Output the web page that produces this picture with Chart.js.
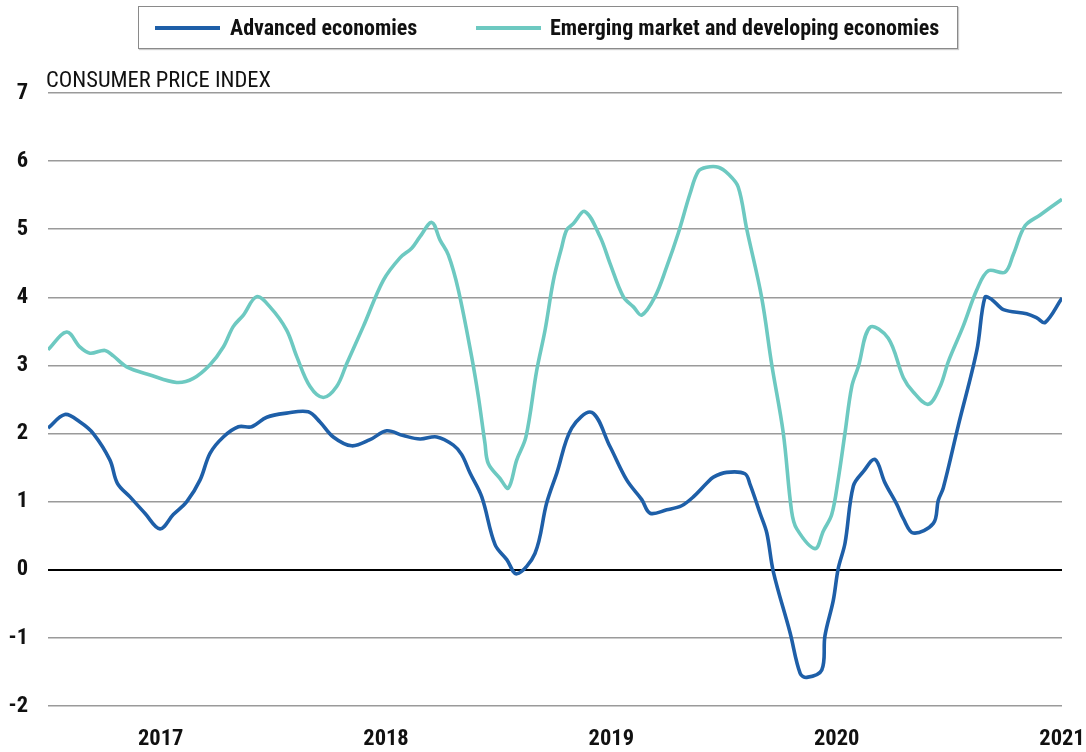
<!DOCTYPE html>
<html><head><meta charset="utf-8">
<script src="https://cdn.jsdelivr.net/npm/chart.js@4/dist/chart.umd.min.js"></script>
<style>
html,body{margin:0;padding:0;background:#fff;}
#wrap{position:relative;width:1086px;height:752px;overflow:hidden;}
#c{position:absolute;left:0;top:0;}
.legend{position:absolute;left:138px;top:6px;width:818px;height:41px;border:1px solid #8a8a8a;box-shadow:1px 1px 1px rgba(0,0,0,0.2);background:#fff;
 font-family:'Roboto Condensed','Liberation Sans Narrow','DejaVu Sans Condensed',Roboto,sans-serif;font-weight:bold;font-size:22px;color:#111;}
.item{position:absolute;top:0;height:41px;line-height:41px;white-space:nowrap;}
.sw{position:absolute;top:19px;height:4px;}
.ytitle{position:absolute;left:46px;top:66px;font-family:'Roboto Condensed','Liberation Sans Narrow','DejaVu Sans Condensed',Roboto,sans-serif;font-size:22.5px;color:#111;white-space:nowrap;}
</style></head>
<body>
<div id="wrap">
<canvas id="c" width="1086" height="752"></canvas>
<div class="legend">
 <div class="sw" style="left:16px;width:65px;background:#1e5fa8"></div>
 <div class="item" style="left:91px">Advanced economies</div>
 <div class="sw" style="left:337px;width:65px;background:#6dc9c1"></div>
 <div class="item" style="left:411px">Emerging market and developing economies</div>
</div>
<div class="ytitle">CONSUMER PRICE INDEX</div>
</div>
<script>
const yearTicks = [2017, 2018, 2019, 2020, 2021];
const yTicks = [-2, -1, 0, 1, 2, 3, 4, 5, 6, 7];
const seriesNames = ['Advanced economies', 'Emerging market and developing economies'];

const advX = [2016.50,2016.575,2016.642,2016.701,2016.775,2016.808,2016.864,2016.930,2016.997,2017.056,2017.116,2017.175,2017.219,2017.278,2017.345,2017.404,2017.471,2017.559,2017.655,2017.707,2017.766,2017.848,2017.929,2018.003,2018.077,2018.151,2018.225,2018.299,2018.336,2018.373,2018.425,2018.484,2018.536,2018.580,2018.661,2018.713,2018.758,2018.824,2018.913,2018.994,2019.068,2019.135,2019.172,2019.246,2019.312,2019.364,2019.423,2019.453,2019.512,2019.593,2019.616,2019.660,2019.690,2019.719,2019.793,2019.838,2019.867,2019.934,2019.948,2019.985,2020.007,2020.037,2020.074,2020.118,2020.170,2020.214,2020.267,2020.296,2020.340,2020.429,2020.451,2020.473,2020.540,2020.622,2020.658,2020.688,2020.740,2020.843,2020.888,2020.925,2021.0];
const advY = [2.08,2.28,2.17,2.00,1.61,1.27,1.07,0.83,0.60,0.81,1.00,1.32,1.71,1.95,2.10,2.10,2.24,2.30,2.32,2.17,1.95,1.82,1.91,2.04,1.97,1.92,1.95,1.83,1.69,1.42,1.07,0.37,0.15,-0.06,0.24,0.98,1.42,2.08,2.31,1.81,1.32,1.03,0.83,0.88,0.94,1.07,1.27,1.36,1.43,1.41,1.25,0.83,0.54,-0.03,-0.92,-1.52,-1.58,-1.47,-0.97,-0.45,0.02,0.39,1.23,1.44,1.62,1.28,0.96,0.75,0.54,0.68,1.02,1.20,2.12,3.22,4.00,3.97,3.82,3.76,3.70,3.63,3.99];

const emX = [2016.50,2016.583,2016.642,2016.686,2016.753,2016.790,2016.849,2016.953,2017.071,2017.145,2017.219,2017.278,2017.322,2017.367,2017.426,2017.485,2017.559,2017.604,2017.663,2017.722,2017.781,2017.826,2017.899,2017.988,2018.062,2018.114,2018.151,2018.203,2018.240,2018.277,2018.321,2018.380,2018.410,2018.439,2018.454,2018.506,2018.543,2018.580,2018.621,2018.669,2018.706,2018.743,2018.780,2018.802,2018.831,2018.883,2018.950,2018.994,2019.053,2019.098,2019.135,2019.194,2019.246,2019.297,2019.349,2019.386,2019.423,2019.475,2019.519,2019.563,2019.601,2019.667,2019.712,2019.763,2019.800,2019.823,2019.904,2019.941,2019.978,2020.007,2020.037,2020.067,2020.096,2020.148,2020.229,2020.296,2020.340,2020.407,2020.459,2020.496,2020.562,2020.622,2020.673,2020.747,2020.784,2020.836,2020.903,2021.0];
const emY = [3.23,3.49,3.27,3.18,3.22,3.14,2.98,2.86,2.75,2.81,3.01,3.27,3.57,3.74,4.01,3.86,3.52,3.13,2.69,2.53,2.69,3.03,3.57,4.25,4.58,4.72,4.89,5.10,4.84,4.62,4.11,3.13,2.54,1.86,1.56,1.34,1.20,1.61,1.95,2.93,3.52,4.25,4.74,4.99,5.08,5.26,4.89,4.50,4.01,3.86,3.74,4.01,4.45,4.94,5.52,5.85,5.91,5.91,5.81,5.62,5.00,4.00,3.01,2.01,0.86,0.60,0.31,0.57,0.81,1.33,2.01,2.69,2.98,3.56,3.40,2.82,2.61,2.43,2.69,3.06,3.58,4.11,4.39,4.37,4.63,5.05,5.21,5.44];

const FONT = "'Roboto Condensed','Liberation Sans Narrow','DejaVu Sans Condensed',Roboto,sans-serif";
const toPts = (xs, ys) => xs.map((x, i) => ({x: x, y: ys[i]}));

new Chart(document.getElementById('c'), {
  type: 'line',
  data: {
    datasets: [
      {label: seriesNames[1], data: toPts(emX, emY), borderColor: '#6dc9c1', borderWidth: 3.6, pointRadius: 0, tension: 0.35, fill: false},
      {label: seriesNames[0], data: toPts(advX, advY), borderColor: '#1e5fa8', borderWidth: 3.6, pointRadius: 0, tension: 0.35, fill: false}
    ]
  },
  options: {
    responsive: false,
    animation: false,
    events: [],
    layout: {padding: {top: 93, right: 24, left: 0, bottom: 0}},
    plugins: {legend: {display: false}, tooltip: {enabled: false}, title: {display: false}},
    scales: {
      x: {
        type: 'linear', min: 2016.5, max: 2021,
        afterBuildTicks: (s) => { s.ticks = yearTicks.map(v => ({value: v})); },
        afterFit: (s) => { s.height = 46; s.paddingLeft = 0; s.paddingRight = 0; },
        grid: {display: false, drawTicks: false},
        border: {display: false},
        ticks: {padding: 20, maxRotation: 0, autoSkip: false, color: '#111',
          font: {family: FONT, size: 22.5, weight: 'bold'},
          callback: (v) => String(v)}
      },
      y: {
        min: -2, max: 7,
        afterBuildTicks: (s) => { s.ticks = yTicks.map(v => ({value: v})); },
        afterFit: (s) => { s.width = 48; },
        grid: {drawTicks: false, color: (c) => c.tick && c.tick.value === 0 ? '#000' : '#9a9a9a', lineWidth: (c) => c.tick && c.tick.value === 0 ? 2 : 1.5},
        border: {display: false},
        ticks: {padding: 20, color: '#111', font: {family: FONT, size: 22.5, weight: 'bold'}}
      }
    }
  }
});
</script>
</body></html>
